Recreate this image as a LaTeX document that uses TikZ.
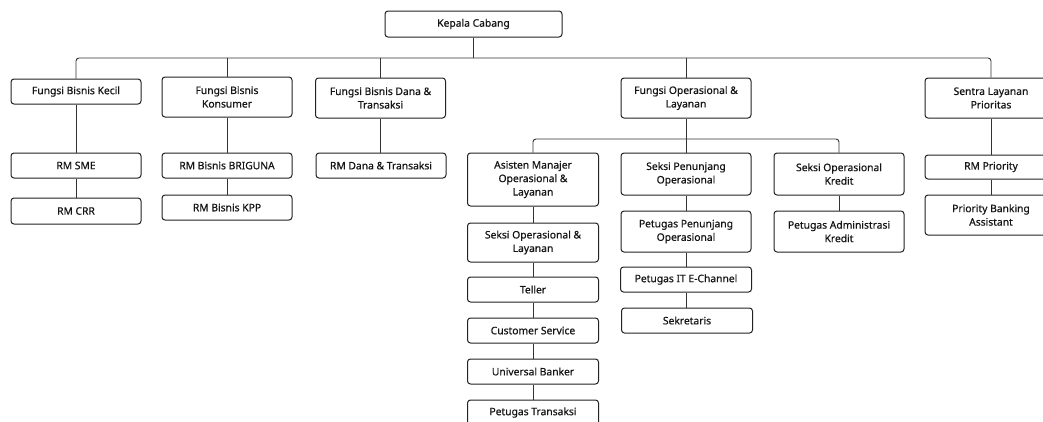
\documentclass[tikz,border=0pt]{standalone}
\usepackage{fontspec}
\setmainfont[FakeBold=0.6]{Noto Sans}
\definecolor{txt}{HTML}{151515}
\definecolor{edge}{HTML}{222222}
\definecolor{conn}{HTML}{333333}
\begin{document}
\begin{tikzpicture}[x=1pt,y=-1pt,
  box/.style={draw=edge,line width=1pt,rounded corners=3pt,fill=white,
    text=txt,align=center,inner sep=0pt,minimum width=130pt,minimum height=25pt,
    font=\fontsize{10.3}{13.5}\selectfont\bfseries},
  tall/.style={box,minimum height=40pt},
  link/.style={draw=conn,line width=0.9pt},
  buslink/.style={link,rounded corners=3pt}]
\useasboundingbox (0,0) rectangle (1043,421);
\clip (0,0) rectangle (1043,421);
\fill[white] (0,0) rectangle (1043,421);
\coordinate (bus) at (0,58);
\coordinate (sbus) at (0,139);
% level 0
\node[box,minimum width=177pt,minimum height=26pt] (kc) at (473.5,24) {Kepala Cabang};
% level 1
\node[box] (f1) at (76,91.5) {Fungsi Bisnis Kecil};
\node[tall] (f2) at (227,97) {Fungsi Bisnis\\Konsumer};
\node[tall] (f3) at (380.5,98) {Fungsi Bisnis Dana \&\\Transaksi};
\node[tall] (f4) at (686,98) {Fungsi Operasional \&\\Layanan};
\node[tall,minimum width=132pt] (f5) at (991,98) {Sentra Layanan\\Prioritas};
% level 2
\node[box] (sme) at (76,165.5) {RM SME};
\node[box,minimum height=26pt] (crr) at (76,211) {RM CRR};
\node[box] (brig) at (227,165.5) {RM Bisnis BRIGUNA};
\node[box] (kpp) at (227,207.5) {RM Bisnis KPP};
\node[box] (dana) at (381,165.5) {RM Dana \& Transaksi};
\node[box,minimum width=131pt,minimum height=53pt] (asm) at (533,179.5) {Asisten Manajer\\Operasional \&\\Layanan};
\node[tall,minimum height=42pt] (spo) at (686,174) {Seksi Penunjang\\Operasional};
\node[tall,minimum height=42pt] (sok) at (839,174) {Seksi Operasional\\Kredit};
\node[box,minimum width=132pt,minimum height=24pt] (rmp) at (991,167) {RM Priority};
\node[tall,minimum width=132pt] (pba) at (991,215) {Priority Banking\\Assistant};
% column Asisten
\node[tall,minimum height=39pt,minimum width=131pt] (sol) at (533,242.5) {Seksi Operasional \&\\Layanan};
\node[box,minimum width=131pt] (tel) at (533,289.5) {Teller};
\node[box,minimum width=131pt] (cs) at (533,330.5) {Customer Service};
\node[box,minimum width=131pt] (ub) at (533,371.5) {Universal Banker};
\node[box,minimum width=131pt] (pt) at (533,412.5) {Petugas Transaksi};
% column Penunjang
\node[tall,minimum height=41pt] (ppo) at (686,231.5) {Petugas Penunjang\\Operasional};
\node[box,minimum width=131pt] (itc) at (686,279.5) {Petugas IT E-Channel};
\node[box,minimum width=131pt] (sek) at (687,320.5) {Sekretaris};
% column Kredit
\node[tall,minimum height=41pt] (pak) at (839,231.5) {Petugas Administrasi\\Kredit};
% connectors level 0 -> 1
\draw[link] (kc.south) -- (kc.south |- bus);
\draw[buslink] (f1.north) |- (f5.north |- bus) -- (f5.north);
\draw[link] (f2.north) -- (f2.north |- bus);
\draw[link] (f3.north) -- (f3.north |- bus);
\draw[link] (f4.north) -- (f4.north |- bus);
% chains
\draw[link] (f1) -- (sme);
\draw[link] (sme) -- (crr);
\draw[link] (f2) -- (brig);
\draw[link] (brig) -- (kpp);
\draw[link] (f3.south) -- (dana.north -| f3.south);
\draw[link] (f5) -- (rmp);
\draw[link] (rmp) -- (pba);
% operasional sub-tree
\draw[link] (f4.south) -- (spo.north);
\draw[buslink] (asm.north) |- (sok.north |- sbus) -- (sok.north);
\draw[link] (asm) -- (sol);
\draw[link] (sol) -- (tel);
\draw[link] (tel) -- (cs);
\draw[link] (cs) -- (ub);
\draw[link] (ub) -- (pt);
\draw[link] (spo) -- (ppo);
\draw[link] (ppo) -- (itc);
\draw[link] (itc.south) -- (sek.north -| itc.south);
\draw[link] (sok) -- (pak);
\end{tikzpicture}
\end{document}
